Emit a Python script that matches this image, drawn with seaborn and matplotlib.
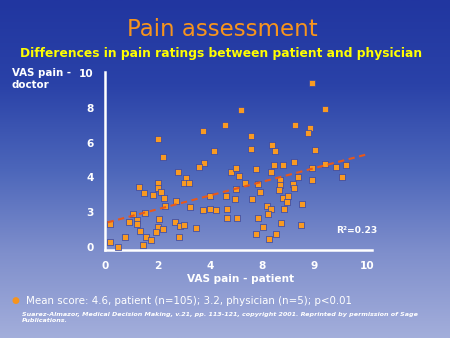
import numpy as np
import pandas as pd
import matplotlib
matplotlib.use("Agg")
import matplotlib.pyplot as plt
import seaborn as sns
from matplotlib.colors import LinearSegmentedColormap

# ---- data ----
patient = [2.02, 2.20, 3.75, 4.58, 5.18, 4.17, 3.79, 7.89, 8.40, 7.24,
           7.84, 7.76, 5.56, 6.37, 5.58, 6.51, 8.04, 7.21, 6.46, 6.79,
           8.42, 9.19, 3.58, 2.79, 3.09, 3.00, 3.22, 4.80, 5.00, 5.13,
           1.31, 2.03, 2.03, 2.15, 1.50, 1.82, 2.25, 2.30, 2.73, 3.26,
           3.75, 4.02, 4.24, 4.00, 4.62, 4.96, 4.99, 4.67, 4.66, 5.06,
           1.51, 1.07, 2.07, 2.69, 2.86, 3.03, 0.90, 1.24, 1.24, 0.20,
           2.03, 2.22, 1.93, 1.32, 3.47, 2.84, 1.57, 1.76, 0.75, 0.19,
           0.50, 1.44, 5.75, 6.33, 7.90, 8.84, 9.04, 5.34, 5.85, 6.68,
           6.70, 6.63, 7.17, 7.22, 7.36, 7.89, 5.92, 5.62, 6.79, 7.00,
           6.95, 6.17, 6.34, 6.21, 6.84, 7.51, 5.86, 6.74, 6.05, 7.48,
           5.76, 6.52, 6.28]
doctor = [6.19, 5.17, 6.65, 6.99, 7.89, 5.50, 4.82, 9.43, 7.95, 7.01,
          6.82, 6.53, 6.38, 5.86, 5.65, 5.51, 5.57, 4.91, 4.74, 4.74,
          4.80, 4.71, 4.58, 4.29, 3.95, 3.70, 3.70, 4.29, 4.52, 4.08,
          3.47, 3.70, 3.37, 3.14, 3.09, 2.97, 2.80, 2.34, 2.66, 2.30,
          2.11, 2.20, 2.13, 2.93, 2.93, 2.74, 3.32, 2.17, 1.67, 1.66,
          1.97, 1.90, 1.61, 1.44, 1.19, 1.25, 1.42, 1.55, 1.32, 1.32,
          1.15, 1.02, 0.86, 0.92, 1.07, 0.56, 0.59, 0.39, 0.56, 0.30,
          0.00, 0.10, 4.50, 4.31, 4.52, 4.61, 4.04, 3.66, 3.62, 3.85,
          3.56, 3.28, 3.62, 3.37, 4.02, 3.85, 3.16, 2.74, 2.80, 2.91,
          2.59, 2.36, 2.17, 1.91, 2.18, 2.46, 1.67, 1.36, 1.15, 1.26,
          0.75, 0.76, 0.46]
x_ticks = [0, 2, 4, 6, 8, 10]
x_tick_labels = ["0", "2", "4", "8", "9", "10"]
y_ticks = [0, 2, 4, 6, 8, 10]
y_tick_labels = ["0", "3", "4", "6", "8", "10"]
r2_label = "R\u00b2=0.23"

df = pd.DataFrame({"patient": patient, "doctor": doctor})

sns.set_theme(style="white")
plt.rcParams["font.family"] = ["DejaVu Sans"]

W, H = 450, 338
fig = plt.figure(figsize=(W / 100, H / 100), dpi=100)

# background gradient
bg = fig.add_axes([0, 0, 1, 1], zorder=-10)
cmap = LinearSegmentedColormap.from_list(
    "bg", ["#2136a0", "#2a42a8", "#4c66ba", "#7f8fcc", "#a3aedb"])
grad = np.linspace(0, 1, 256).reshape(-1, 1)
bg.imshow(grad, aspect="auto", cmap=cmap, extent=[0, 1, 1, 0])
bg.set_axis_off()

# main axes
ax_left, ax_right = 105 / W, 372 / W
ax_top, ax_bot = 72 / H, 249.5 / H
ax = fig.add_axes([ax_left, 1 - ax_bot, ax_right - ax_left, ax_bot - ax_top])
ax.patch.set_alpha(0)

sns.scatterplot(data=df, x="patient", y="doctor", ax=ax, marker="s", s=17,
                color="#f99a22", edgecolor="#2c44b0", linewidth=0.5,
                zorder=3, legend=False)

# regression line (least squares fit of the data)
coef = np.polyfit(df["patient"], df["doctor"], 1)
xs = np.array([0.1, 9.95])
ax.plot(xs, np.polyval(coef, xs), color="#e8581a", lw=1.5,
        dashes=(3, 2.2), zorder=4)

ax.set_xlim(0.05, 10.2)
ax.set_ylim(-0.14, 10.06)
ax.set_xticks(x_ticks)
ax.set_xticklabels(x_tick_labels)
ax.set_yticks(y_ticks)
ax.set_yticklabels(y_tick_labels)
ax.tick_params(axis="both", length=0, colors="white", labelsize=7.6)
ax.tick_params(axis="x", pad=8)
ax.tick_params(axis="y", pad=8)
for lab in ax.get_xticklabels() + ax.get_yticklabels():
    lab.set_fontweight("bold")
for s in ["top", "right"]:
    ax.spines[s].set_visible(False)
for s in ["left", "bottom"]:
    ax.spines[s].set_color("white")
    ax.spines[s].set_linewidth(1.8)
ax.set_xlabel("")
ax.set_ylabel("")
ax.grid(False)

ax.text(9.6, 0.95, r2_label, color="white", fontsize=6.6, ha="center",
        va="center", fontweight="bold")

# texts
fig.text(222 / W, 1 - 29 / H, "Pain assessment", color="#f7941d",
         fontsize=16.5, ha="center", va="center")
fig.text(221 / W, 1 - 53 / H,
         "Differences in pain ratings between patient and physician",
         color="#ffff00", fontsize=8.85, fontweight="bold",
         ha="center", va="center")
fig.text(12 / W, 1 - 68 / H, "VAS pain - \ndoctor", color="white",
         fontsize=7.4, fontweight="bold", ha="left", va="top",
         linespacing=1.3)
fig.text(241 / W, 1 - 279 / H, "VAS pain - patient", color="white",
         fontsize=7.6, fontweight="bold", ha="center", va="center")
fig.text(15 / W, 1 - 301 / H, "\u25cf", color="#f7941d", fontsize=6.5,
         ha="center", va="center")
fig.text(26 / W, 1 - 301 / H,
         "Mean score: 4.6, patient (n=105); 3.2, physician (n=5); p<0.01",
         color="white", fontsize=7.4, ha="left", va="center")
fig.text(22 / W, 1 - 312 / H,
         "Suarez-Almazor, Medical Decision Making, v.21, pp. 113-121, "
         "copyright 2001. Reprinted by permission of Sage\nPublications.",
         color="white", fontsize=4.6, fontweight="bold", style="italic",
         ha="left", va="top", linespacing=1.35)

fig.savefig("out.png", dpi=100)
